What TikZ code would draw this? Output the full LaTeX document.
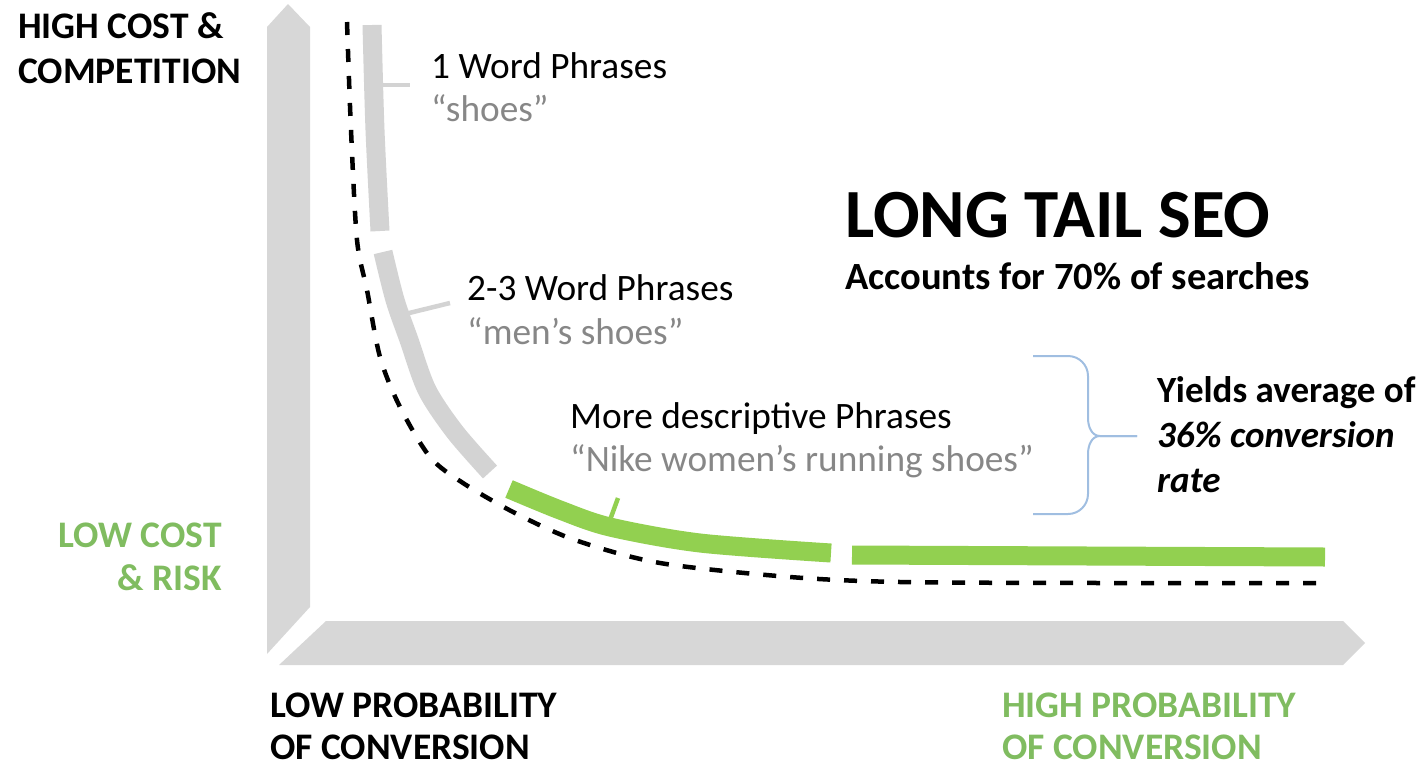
\documentclass[tikz,border=0pt]{standalone}
\usepackage{fontspec}
\setmainfont{Carlito}
\usepackage{tikz}
\definecolor{axisgray}{RGB}{215,215,215}
\definecolor{bandgray}{RGB}{211,211,211}
\definecolor{bandgreen}{RGB}{146,208,80}
\definecolor{textgreen}{RGB}{128,188,96}
\definecolor{textgray}{RGB}{135,135,135}
\definecolor{braceblue}{RGB}{160,190,225}
\tikzset{
  axisarrow/.style={fill=axisgray,draw=none},
  band/.style={line width=19pt,line cap=butt},
  tickline/.style={line width=4.5pt,line cap=butt},
  corner/.style={anchor=base west,inner sep=0pt,font=\fontsize{37.5}{44}\selectfont\bfseries},
  phrase/.style={anchor=base west,inner sep=0pt,font=\fontsize{37.3}{44}\selectfont},
  example/.style={phrase,text=textgray},
}

\begin{document}
\begin{tikzpicture}[x=1pt,y=-1pt]
      \useasboundingbox (0,0) rectangle (1422,766);

      % axes
      \fill[axisarrow] (267,654) -- (267,27) -- (288,4) -- (310,27) -- (310,607) -- cycle;
      \fill[axisarrow] (279,665) -- (326,621) -- (1343,621) -- (1365,643) -- (1343,665) -- cycle;

      % long tail curve
      \draw[black,line width=4.5pt,dash pattern=on 13pt off 14pt]
        plot[smooth,tension=0.5] coordinates {(347,22) (351,130) (357,240) (367,290) (380,357)
          (400,407) (430,457) (463,483) (515,513) (575,540) (660,563) (790,577) (900,582)
          (1100,583) (1325,583)};

      % bands
      \draw[band,bandgray] plot[smooth] coordinates {(372,25) (375,130) (380,231)};
      \draw[band,bandgray] plot[smooth] coordinates {(383,252) (395,300) (409,340) (427,390) (455,432) (490,472)};
      \draw[band,bandgreen] plot[smooth] coordinates {(509,489) (560,510) (610,527) (700,543) (831,553)};
      \draw[band,bandgreen] (852,555) -- (1325,557);

      % ticks
      \coordinate (t1a) at (381,85);
      \coordinate (t1b) at (410,85);
      \coordinate (t2a) at (401,315);
      \coordinate (t2b) at (450,303);
      \coordinate (t3a) at (610,520);
      \coordinate (t3b) at (618,498);
      \draw[tickline,bandgray] (t1a) -- (t1b);
      \draw[tickline,bandgray] (t2a) -- (t2b);
      \draw[tickline,bandgreen] (t3a) -- (t3b);

      % axis labels
      \node[corner] (high1) at (18,38) {HIGH COST \&};
      \node[corner] (high2) at (18,83) {COMPETITION};
      \node[corner,anchor=base east,text=textgreen] (low1) at (222,547) {LOW COST};
      \node[corner,anchor=base east,text=textgreen] (low2) at (222,590) {\& RISK};
      \node[corner,text depth=0pt] (lowprob1) at (270,717) {LOW PROBABILITY};
      \node[corner,text depth=0pt] (lowprob2) at (270,759) {OF CONVERSION};
      \node[corner,text depth=0pt,text=textgreen] (highprob1) at (1002,717) {HIGH PROBABILITY};
      \node[corner,text depth=0pt,text=textgreen] (highprob2) at (1002,759) {OF CONVERSION};

      % phrases
      \node[phrase] (one) at (431,78) {1 Word Phrases};
      \node[example] (oneex) at (431,121) {“shoes”};
      \node[phrase] (two) at (467,300) {2-3 Word Phrases};
      \node[example] (twoex) at (467,344) {“men’s shoes”};
      \node[phrase] (more) at (570,428) {More descriptive Phrases};
      \node[example] (moreex) at (570,471) {“Nike women’s running shoes”};

      % title
      \node[anchor=base west,inner sep=0pt,font=\fontsize{69}{80}\selectfont\bfseries] (title) at (845,237) {LONG TAIL SEO};
      \node[corner,font=\fontsize{38.5}{44}\selectfont\bfseries] (sub) at (845,289) {Accounts for 70\% of searches};

      % brace
      \draw[braceblue,line width=2pt] (1033,356) -- (1068,356) to[out=0,in=90] (1088,376) -- (1088,418)
        to[out=-90,in=180] (1100,436) -- (1137,436);
      \draw[braceblue,line width=2pt] (1137,436) -- (1100,436) to[out=180,in=90] (1088,454) -- (1088,494)
        to[out=-90,in=0] (1068,514) -- (1033,514);
      \node[corner,font=\fontsize{37}{44}\selectfont\bfseries] (yield1) at (1157,402) {Yields average of};
      \node[corner,font=\fontsize{37}{44}\selectfont\bfseries\itshape] (yield2) at (1157,447) {36\% conversion};
      \node[corner,font=\fontsize{37}{44}\selectfont\bfseries\itshape] (yield3) at (1157,492) {rate};
\end{tikzpicture}
\end{document}
